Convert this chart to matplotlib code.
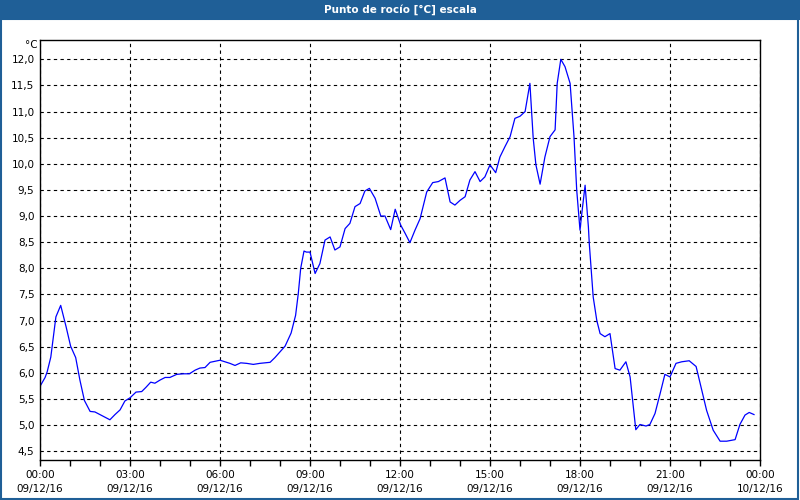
import matplotlib.pyplot as plt
from matplotlib.patches import Rectangle
from matplotlib.ticker import MultipleLocator, FuncFormatter

# === DATA (hours since 00:00 of 09/12/16, dew point in degC) ===
hours = [0.03, 0.17, 0.24, 0.36, 0.53, 0.69, 0.87, 1.02, 1.19, 1.33, 1.48, 1.67,
         1.83, 2.33, 2.50, 2.67, 2.83, 3.00, 3.20, 3.39, 3.53, 3.69, 3.83, 4.00,
         4.17, 4.33, 4.56, 4.78, 4.98, 5.17, 5.33, 5.50, 5.67, 5.83, 6.00, 6.17,
         6.33, 6.50, 6.69, 6.89, 7.11, 7.33, 7.67, 7.83, 8.00, 8.17, 8.37, 8.52,
         8.61, 8.69, 8.80, 8.88, 9.00, 9.17, 9.33, 9.50, 9.67, 9.83, 10.00, 10.17,
         10.33, 10.50, 10.67, 10.83, 10.98, 11.17, 11.36, 11.50, 11.69, 11.84, 12.02,
         12.17, 12.33, 12.50, 12.67, 12.89, 13.09, 13.28, 13.50, 13.67, 13.83, 14.00,
         14.17, 14.33, 14.50, 14.67, 14.83, 15.00, 15.19, 15.33, 15.50, 15.67, 15.83,
         16.00, 16.17, 16.33, 16.44, 16.53, 16.67, 16.83, 17.00, 17.17, 17.24, 17.36,
         17.50, 17.67, 17.80, 17.89, 18.00, 18.06, 18.17, 18.28, 18.31, 18.44, 18.56,
         18.67, 18.83, 19.00, 19.17, 19.33, 19.53, 19.67, 19.86, 20.00, 20.20, 20.33,
         20.50, 20.67, 20.83, 21.00, 21.20, 21.39, 21.64, 21.87, 22.06, 22.22, 22.44,
         22.67, 22.89, 23.17, 23.33, 23.50, 23.64, 23.80]
dew_point = [5.77, 5.91, 6.02, 6.30, 7.07, 7.29, 6.88, 6.51, 6.29, 5.86, 5.47, 5.26,
             5.25, 5.10, 5.20, 5.29, 5.46, 5.52, 5.63, 5.64, 5.72, 5.82, 5.80, 5.86,
             5.91, 5.91, 5.97, 5.98, 5.98, 6.05, 6.09, 6.10, 6.20, 6.22, 6.24, 6.21,
             6.18, 6.14, 6.19, 6.18, 6.16, 6.18, 6.20, 6.29, 6.40, 6.51, 6.76, 7.10,
             7.52, 8.00, 8.33, 8.31, 8.31, 7.90, 8.09, 8.54, 8.60, 8.35, 8.41, 8.76,
             8.86, 9.18, 9.24, 9.48, 9.53, 9.34, 9.00, 9.00, 8.74, 9.13, 8.83,
             8.67, 8.49, 8.73, 8.95, 9.46, 9.64, 9.66, 9.73, 9.27, 9.21, 9.30,
             9.37, 9.69, 9.85, 9.66, 9.75, 9.98, 9.83, 10.13, 10.33, 10.52, 10.87,
             10.91, 11.00, 11.54, 10.49, 9.98, 9.61, 10.13, 10.52, 10.65, 11.54, 12.00,
             11.86, 11.54, 10.52, 9.50, 8.73, 9.05, 9.59, 8.79, 8.47, 7.45, 7.00,
             6.75, 6.69, 6.75, 6.08, 6.05, 6.21, 5.92, 4.91, 5.01, 4.98, 5.01,
             5.22, 5.60, 5.97, 5.92, 6.18, 6.21, 6.23, 6.12, 5.66, 5.28, 4.90,
             4.69, 4.69, 4.72, 5.01, 5.19, 5.24, 5.20]

major_hours = [0, 3, 6, 9, 12, 15, 18, 21, 24]
major_labels = ["00:00\n09/12/16", "03:00\n09/12/16", "06:00\n09/12/16",
                "09:00\n09/12/16", "12:00\n09/12/16", "15:00\n09/12/16",
                "18:00\n09/12/16", "21:00\n09/12/16", "00:00\n10/12/16"]

plt.rcParams['font.family'] = ['DejaVu Sans']

fig = plt.figure(figsize=(8, 5), dpi=100)
fig.patch.set_facecolor('white')

# title bar and window frame
fig.patches.append(Rectangle((0, 0.96), 1, 0.04, transform=fig.transFigure,
                             facecolor='#1f5f97', edgecolor='none', zorder=0))
fig.patches.append(Rectangle((0.001, 0.003), 0.997, 0.96, transform=fig.transFigure,
                             facecolor='none', edgecolor='#1f5f97', lw=1.5, zorder=0))
fig.text(0.5, 0.98, "Punto de rocío [°C] escala", color='white', fontsize=7.5,
         fontweight='bold', ha='center', va='center')

ax = fig.add_axes([0.05, 0.08, 0.90, 0.84])
ax.plot(hours, dew_point, color='#0000ff', lw=0.9)

ax.set_xlim(0, 24)
ax.set_ylim(4.33, 12.37)
ax.set_xticks(major_hours)
ax.set_xticklabels(major_labels, linespacing=1.55)
ax.xaxis.set_minor_locator(MultipleLocator(1))
ax.yaxis.set_major_locator(MultipleLocator(0.5))
ax.yaxis.set_major_formatter(FuncFormatter(lambda v, p: f"{v:.1f}".replace('.', ',')))

ax.tick_params(axis='x', which='both', direction='out', length=4, width=1,
               labelsize=7.5, pad=3, colors='black')
ax.tick_params(axis='y', length=0, labelsize=7.5, pad=4)

ax.grid(True, color='black', linestyle=(0, (3, 3)), lw=0.8)
for s in ax.spines.values():
    s.set_linewidth(1)
    s.set_color('black')

fig.text(0.047, 0.91, "°C", fontsize=7.5, ha='right', va='center')

plt.savefig("out.png", dpi=100)
